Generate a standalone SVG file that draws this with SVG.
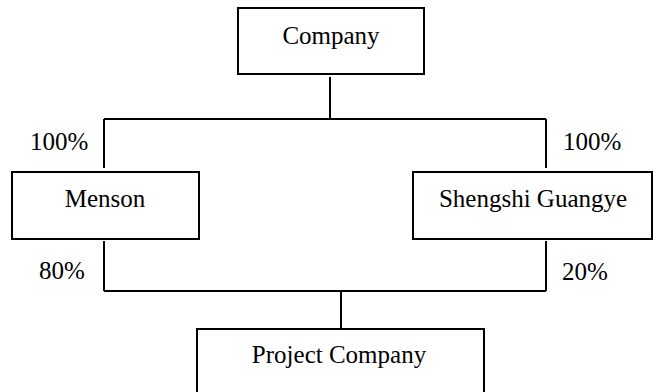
<svg xmlns="http://www.w3.org/2000/svg" width="653" height="392" viewBox="0 0 653 392">
<style>
.box{fill:#fff;stroke:#000;stroke-width:2}
.ln{fill:none;stroke:#000;stroke-width:2}
text{font-family:"Liberation Serif","Times New Roman",serif;font-size:25px;fill:#000}
.c{text-anchor:middle}
</style>
<rect width="653" height="392" fill="#fff"/>
<g id="connectors">
<path class="ln" d="M330 77V119M104 119H546M104 119V168M546 119V168"/>
<path class="ln" d="M104 241V291M546 241V291M104 291H546M341 291V329"/>
</g>
<g id="company">
<rect class="box" x="238" y="8" width="186" height="66"/>
<text class="c" x="331" y="44">Company</text>
</g>
<g id="menson">
<rect class="box" x="12" y="172" width="187" height="67"/>
<text class="c" x="105" y="207">Menson</text>
</g>
<g id="shengshi">
<rect class="box" x="413" y="172" width="239" height="67"/>
<text class="c" x="533" y="207">Shengshi Guangye</text>
</g>
<g id="project">
<rect class="box" x="197" y="329" width="287" height="80"/>
<text class="c" x="339" y="363">Project Company</text>
</g>
<g id="labels">
<text x="30" y="150">100%</text>
<text x="39" y="279">80%</text>
<text x="563" y="150">100%</text>
<text x="562" y="280">20%</text>
</g>
</svg>
